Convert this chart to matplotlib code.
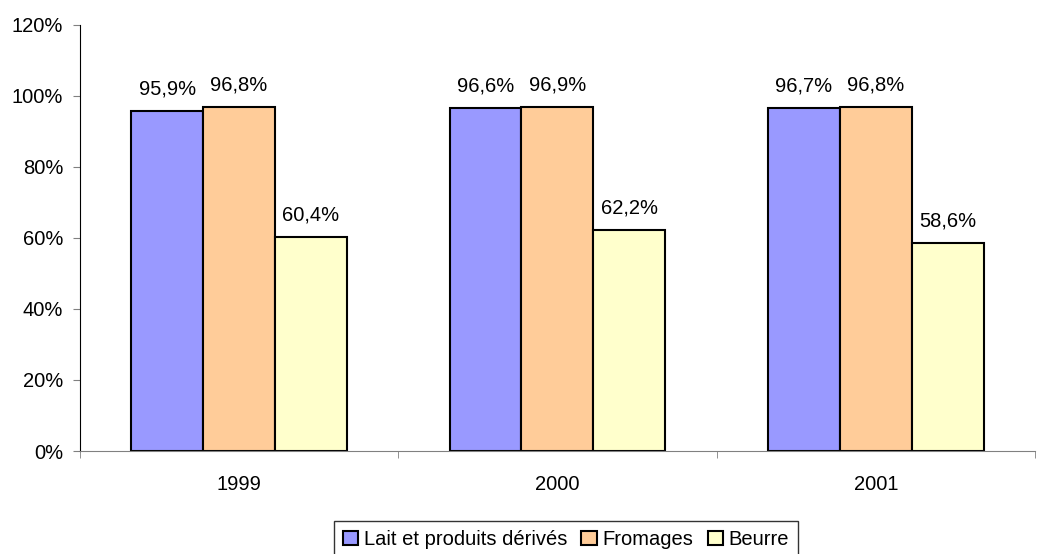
import matplotlib
matplotlib.use("Agg")
import matplotlib.pyplot as plt
import numpy as np
from matplotlib.ticker import FuncFormatter

plt.rcParams['font.family'] = ['Liberation Sans', 'DejaVu Sans']

years = ["1999", "2000", "2001"]
series_names = ["Lait et produits dérivés", "Fromages", "Beurre"]
lait = [95.9, 96.6, 96.7]
fromages = [96.8, 96.9, 96.8]
beurre = [60.4, 62.2, 58.6]
colors = ["#9999FF", "#FFCC99", "#FFFFCC"]

FS = 14.5
fig = plt.figure(figsize=(10.37, 5.54), dpi=100)
ax = fig.add_axes([0.0771, 0.1859, 0.9209, 0.7691])

x = np.arange(len(years))
w = 0.226
for i, (vals, name, col) in enumerate(zip([lait, fromages, beurre], series_names, colors)):
    pos = x + (i - 1) * w
    ax.bar(pos, vals, width=w, color=col, edgecolor="black", linewidth=1.5, label=name)
    for p, v in zip(pos, vals):
        ax.annotate(f"{v:.1f}%".replace(".", ","), (p, v), xytext=(0, 9),
                    textcoords="offset points", ha="center", va="bottom", fontsize=FS)

ax.set_xlim(-0.5, 2.5)
ax.set_ylim(0, 120)
ax.set_yticks(range(0, 121, 20))
ax.yaxis.set_major_formatter(FuncFormatter(lambda v, p: f"{int(v)}%"))
ax.set_xticks(x)
ax.set_xticklabels(years)
ax.set_xticks([-0.5, 0.5, 1.5, 2.5], minor=True)
ax.tick_params(axis="x", which="major", length=0, labelsize=FS, pad=17)
ax.tick_params(axis="x", which="minor", length=5, color="#808080", direction="out")
ax.tick_params(axis="y", length=5, color="#808080", labelsize=FS, pad=7)
ax.spines["top"].set_visible(False)
ax.spines["right"].set_visible(False)
ax.spines["left"].set_color("black")
ax.spines["bottom"].set_color("#808080")
ax.spines["left"].set_bounds(0, 120)

leg = ax.legend(loc="upper center", bbox_to_anchor=(0.509, -0.164), ncol=3, frameon=True,
                fancybox=False, edgecolor="black", fontsize=FS, handlelength=0.75,
                handleheight=0.65, handletextpad=0.3, columnspacing=0.7, borderpad=0.45,
                borderaxespad=0)
leg.get_frame().set_linewidth(1.0)
for h in leg.legend_handles:
    h.set_linewidth(1.5)

fig.savefig("out.png", dpi=100)
